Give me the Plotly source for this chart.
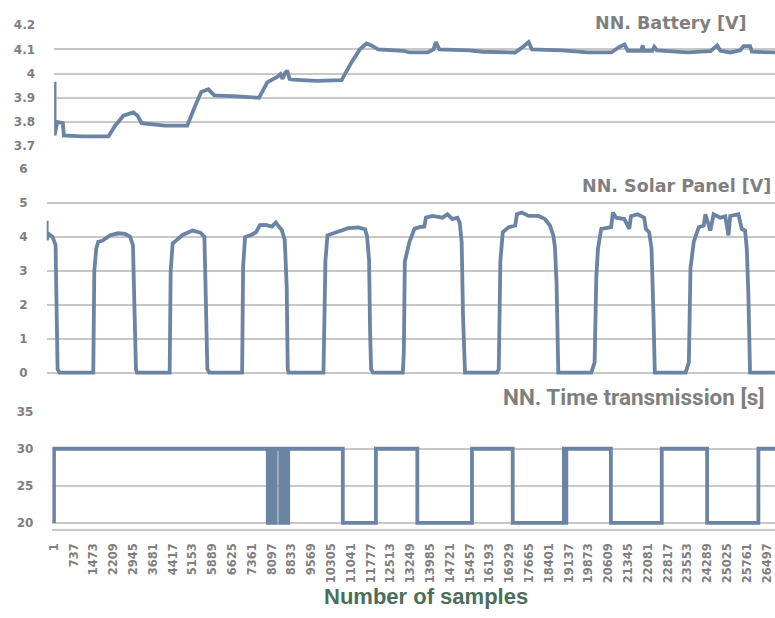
import plotly.graph_objects as go

# ---------------- data ----------------
# Battery voltage [V] (sample index, value)
bat_x = [38, 38, 138, 345, 382, 1062, 2045, 2293, 2599, 2969, 3131, 3279, 4141, 4979,
         5249, 5497, 5767, 5988, 6850, 7652, 7958, 8328, 8450, 8530, 8620, 8700, 8790,
         8900, 9795, 10730, 11100, 11410, 11654, 11839, 12087, 13011, 13258, 13935,
         14150, 14242, 14368, 15476, 15968, 17188, 17446, 17694, 17816, 18925, 19911,
         20773, 21079, 21264, 21390, 21882, 21944, 21990, 22300, 22373, 22473, 23608,
         24469, 24716, 24838, 25208, 25578, 25700, 25946, 26009, 26871]
bat_v = [3.966, 3.745, 3.80, 3.796, 3.745, 3.741, 3.741, 3.785, 3.826, 3.84, 3.826, 3.795,
         3.785, 3.785, 3.86, 3.924, 3.935, 3.91, 3.906, 3.90, 3.964, 3.986, 3.998, 3.978,
         4.002, 4.012, 3.978, 3.975, 3.97, 3.973, 4.047, 4.10, 4.124, 4.116, 4.10, 4.094,
         4.087, 4.087, 4.10, 4.13, 4.10, 4.096, 4.09, 4.087, 4.107, 4.13, 4.10, 4.096,
         4.087, 4.087, 4.11, 4.12, 4.094, 4.094, 4.116, 4.094, 4.094, 4.11, 4.096, 4.087,
         4.092, 4.116, 4.094, 4.087, 4.096, 4.113, 4.113, 4.09, 4.087]

# Solar panel voltage [V]
sol_x = [1, 1, 73, 220, 329, 366, 403, 476, 1720,
         1757, 1830, 1903, 2050, 2342, 2635, 2891, 3074, 3184, 3221, 3294, 3331, 4539,
         4575, 4648, 4795, 5014, 5380, 5673, 5820, 5856, 5929, 6002, 7211,
         7247, 7320, 7540, 7723, 7869, 8089, 8308, 8455, 8564, 8674, 8784, 8857, 8894, 8930, 10212,
         10249, 10285, 10359, 10578, 11127, 11493, 11749, 11822, 11895, 11932, 11969, 12042, 13140,
         13177, 13213, 13385, 13568, 13751, 13934, 13993, 14238, 14604, 14787, 14970, 15153,
         15237, 15310, 15361, 15434, 16617,
         16679, 16738, 16826, 17045, 17287, 17349, 17532, 17777, 18143, 18385, 18568, 18692,
         18751, 18813, 18875, 20094,
         20215, 20277, 20339, 20460, 20826, 20888, 21009, 21313, 21496, 21557, 21803, 22044,
         22106, 22227, 22315, 22388, 22436, 23571,
         23692, 23753, 23874, 24057, 24240, 24302, 24485, 24606, 24851, 25034, 25155, 25217,
         25521, 25645, 25766, 25829, 25887, 25949, 26864]
sol_v = [4.47, 3.9, 4.08, 3.99, 3.75, 2.36, 0.1, 0, 0,
         2.99, 3.65, 3.85, 3.88, 4.04, 4.1, 4.08, 4.0, 3.75, 2.32, 0.1, 0, 0,
         2.99, 3.8, 3.9, 4.05, 4.18, 4.12, 4.0, 2.4, 0.1, 0, 0,
         3.1, 3.99, 4.05, 4.13, 4.34, 4.35, 4.3, 4.42, 4.3, 4.2, 3.9, 2.5, 0.1, 0, 0,
         2.4, 3.3, 4.04, 4.1, 4.25, 4.27, 4.22, 4.0, 3.3, 1.2, 0.1, 0, 0,
         0.6, 3.27, 3.85, 4.23, 4.28, 4.3, 4.56, 4.61, 4.56, 4.66, 4.52, 4.56,
         4.42, 3.85, 1.65, 0, 0,
         0.1, 3.27, 4.13, 4.28, 4.33, 4.66, 4.71, 4.61, 4.61, 4.52, 4.33, 4.04,
         3.7, 2.6, 0, 0,
         0.3, 2.79, 3.65, 4.23, 4.28, 4.71, 4.56, 4.52, 4.23, 4.6, 4.66, 4.56,
         4.23, 4.13, 3.65, 1.65, 0, 0,
         0.3, 3.08, 3.85, 4.28, 4.33, 4.66, 4.18, 4.66, 4.56, 4.6, 4.04, 4.61,
         4.66, 4.23, 4.18, 3.65, 2.32, 0, 0]

# Time transmission [s]: sample where the value switches, and the new value
tt_switch = [1, 1, 7948, 8040, 8133, 8244, 8410, 8503, 8595, 8706, 10737, 11967, 13506,
             15538, 17052, 18954, 19000, 19046, 20700, 22592, 24278, 26184]
tt_level = [20, 30, 20, 30, 20, 30, 20, 30, 20, 30, 20, 30, 20,
            30, 20, 30, 20, 30, 20, 30, 20, 30]
tt_end = 26801

x_ticks = [1, 737, 1473, 2209, 2945, 3681, 4417, 5153, 5889, 6625, 7361, 8097, 8833,
           9569, 10305, 11041, 11777, 12513, 13249, 13985, 14721, 15457, 16193, 16929,
           17665, 18401, 19137, 19873, 20609, 21345, 22081, 22817, 23553, 24289, 25025,
           25761, 26497]

bat_ticks = [3.7, 3.8, 3.9, 4.0, 4.1, 4.2]
bat_ticktext = ["3.7", "3.8", "3.9", "4", "4.1", "4.2"]
sol_ticks = [0, 1, 2, 3, 4, 5, 6]
tt_ticks = [20, 25, 30, 35]

titles = ["NN. Battery [V]", "NN. Solar Panel [V]", "NN. Time transmission [s]"]
x_title = "Number of samples"

# ---------------- build step series for time transmission ----------------
tt_x, tt_y = [], []
for i, (s, v) in enumerate(zip(tt_switch, tt_level)):
    if i > 0:
        tt_x.append(s)
        tt_y.append(tt_level[i - 1])
    tt_x.append(s)
    tt_y.append(v)
tt_x.append(tt_end)
tt_y.append(tt_level[-1])

W, H = 775, 618
LINE = "#6b84a3"
GRID = "#c8c8c8"
TICKC = "#7f7f7f"


def px(x):
    return x / W


def py(y):
    return 1 - y / H


fig = go.Figure()
line = dict(color=LINE, width=3.8)
fig.add_trace(go.Scatter(x=bat_x, y=bat_v, mode="lines", line=line, xaxis="x", yaxis="y",
                         showlegend=False, hoverinfo="skip"))
fig.add_trace(go.Scatter(x=sol_x, y=sol_v, mode="lines", line=line, xaxis="x2", yaxis="y2",
                         showlegend=False, hoverinfo="skip"))
fig.add_trace(go.Scatter(x=tt_x, y=tt_y, mode="lines", line=line, xaxis="x3", yaxis="y3",
                         showlegend=False, hoverinfo="skip"))

yfont = dict(family="DejaVu Sans", size=12, color=TICKC, weight="bold")
ycommon = dict(showgrid=True, gridcolor=GRID, gridwidth=1.5, zeroline=False, showline=False,
               ticks="", tickfont=yfont, ticklabelstandoff=18, fixedrange=True)

fig.update_layout(
    width=W, height=H, autosize=False,
    margin=dict(l=0, r=0, t=0, b=0, pad=0),
    paper_bgcolor="white", plot_bgcolor="white",
    xaxis=dict(domain=[px(48.5), 1], range=[20, 26871], visible=False, anchor="y"),
    xaxis2=dict(domain=[px(41), 1], range=[1, 26870], visible=False, anchor="y2"),
    xaxis3=dict(domain=[px(46.7), 1], range=[-60, 26801], anchor="y3",
                tickmode="array", tickvals=x_ticks, ticktext=[str(t) for t in x_ticks],
                tickangle=-90, showgrid=False, zeroline=False, showline=True,
                linecolor=GRID, linewidth=1.5, ticks="", ticklabelstandoff=8,
                tickfont=dict(family="DejaVu Sans", size=11.5, color=TICKC, weight="bold")),
    yaxis=dict(domain=[py(142.5), py(18.5)], range=[3.7, 4.2], anchor="x",
               tickmode="array", tickvals=bat_ticks, ticktext=bat_ticktext, **ycommon),
    yaxis2=dict(domain=[py(377.5), py(165.5)], range=[-0.1, 6], anchor="x2",
                tickmode="array", tickvals=sol_ticks, **ycommon),
    yaxis3=dict(domain=[py(534), py(414)], range=[19.2, 35], anchor="x3",
                tickmode="array", tickvals=tt_ticks, **ycommon),
)

title_font = dict(family="DejaVu Sans", size=17.5, color="#7f7f7f", weight="bold")
fig.add_annotation(text=titles[0], xref="paper", yref="paper", x=px(746.7), y=py(16),
                   xanchor="right", yanchor="middle", showarrow=False, font=title_font,
                   bgcolor="white", borderpad=0)
fig.add_annotation(text=titles[1], xref="paper", yref="paper", x=px(773.3), y=py(183.5),
                   xanchor="right", yanchor="middle", showarrow=False, font=title_font)
fig.add_annotation(text=titles[2], xref="paper", yref="paper", x=px(766.7), y=py(399),
                   xanchor="right", yanchor="middle", showarrow=False,
                   font=dict(family="Roboto", size=22.5, color="#7f7f7f", weight="bold"))
fig.add_annotation(text=x_title, xref="paper", yref="paper", x=px(423), y=py(603),
                   xanchor="center", yanchor="middle", showarrow=False,
                   font=dict(family="Liberation Sans", size=22, color="#4a6e5a", weight="bold"))

fig.write_html("out.html", config={"displayModeBar": False},
               post_script="document.body.style.margin='0';")
